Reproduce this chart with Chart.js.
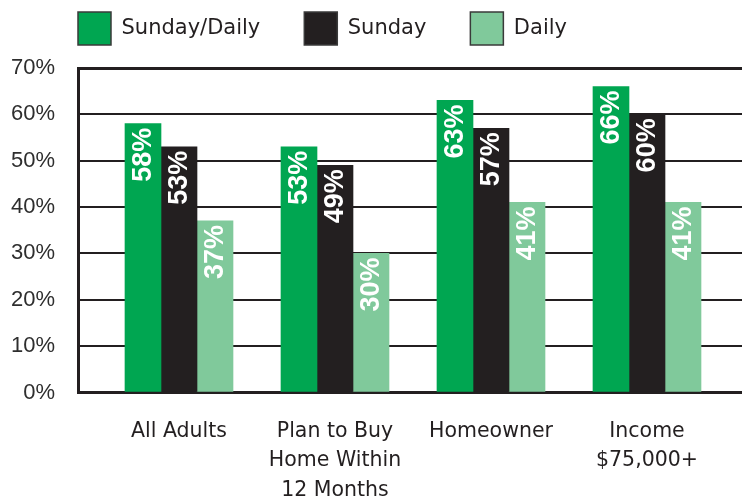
<!DOCTYPE html>
<html>
<head>
<meta charset="utf-8">
<script src="https://cdn.jsdelivr.net/npm/chart.js@4/dist/chart.umd.min.js"></script>
<style>
  html, body { margin: 0; padding: 0; background: #ffffff; }
  #wrap { width: 742px; height: 498px; }
</style>
</head>
<body>
<div id="wrap"><canvas id="c" width="742" height="498"></canvas></div>
<script>
// ---- data ----
const categories = [
  ['All Adults'],
  ['Plan to Buy', 'Home Within', '12 Months'],
  ['Homeowner'],
  ['Income', '$75,000+']
];
const seriesNames = ['Sunday/Daily', 'Sunday', 'Daily'];
const sundayDaily = [58, 53, 63, 66];
const sunday = [53, 49, 57, 60];
const daily = [37, 30, 41, 41];
const yTicks = [0, 10, 20, 30, 40, 50, 60, 70];

const INK = '#231f20';
const colors = ['#00a651', '#231f20', '#80c99b'];

const toPoints = arr => arr.map((v, i) => ({ x: i, y: v }));

const valueLabels = {
  id: 'valueLabels',
  afterDatasetsDraw(chart) {
    const ctx = chart.ctx;
    ctx.save();
    ctx.fillStyle = '#ffffff';
    ctx.font = 'bold 27px "Liberation Sans", Arial, sans-serif';
    ctx.textAlign = 'right';
    ctx.textBaseline = 'middle';
    chart.data.datasets.forEach((ds, di) => {
      const meta = chart.getDatasetMeta(di);
      meta.data.forEach((bar, i) => {
        ctx.save();
        ctx.translate(bar.x + 1, bar.y + 4);
        ctx.rotate(-Math.PI / 2);
        ctx.fillText(ds.data[i].y + '%', 0, 0);
        ctx.restore();
      });
    });
    ctx.restore();
  }
};

const legendPlace = {
  id: 'legendPlace',
  beforeLayout(chart) {
    const lg = chart.legend;
    if (lg && !lg.__gap) {
      const fit = lg.fit;
      lg.fit = function () { fit.apply(this, arguments); this.height += 13; };
      lg.__gap = true;
    }
  },
  afterLayout(chart) {
    const lg = chart.legend;
    if (lg) { lg.left += 34; lg.right += 34; }
  }
};

const ds = [sundayDaily, sunday, daily].map((arr, k) => ({
  label: seriesNames[k],
  data: toPoints(arr),
  backgroundColor: colors[k],
  borderWidth: 0,
  barThickness: 36
}));

new Chart(document.getElementById('c'), {
  type: 'bar',
  data: { datasets: ds },
  plugins: [valueLabels, legendPlace],
  options: {
    responsive: false,
    animation: false,
    layout: { padding: { top: -32, left: 0, right: 0, bottom: -31 } },
    plugins: {
      tooltip: { enabled: false },
      legend: {
        position: 'top',
        align: 'start',
        labels: {
          boxWidth: 33,
          boxHeight: 33,
          padding: 44,
          color: INK,
          font: { family: '"DejaVu Sans", sans-serif', size: 21 },
          generateLabels(chart) {
            const items = Chart.defaults.plugins.legend.labels.generateLabels(chart);
            items.forEach(it => { it.strokeStyle = '#3a3a3a'; it.lineWidth = 1.5; });
            return items;
          }
        }
      }
    },
    scales: {
      x: {
        type: 'linear',
        offset: false,
        min: -0.6474,
        max: 3.609,
        z: 1,
        grid: { display: false, drawTicks: false },
        border: { display: true, color: INK, width: 3 },
        afterBuildTicks(scale) {
          scale.ticks = categories.map((_, i) => ({ value: i }));
        },
        ticks: {
          autoSkip: false,
          maxRotation: 0,
          padding: 24,
          color: INK,
          font: { family: '"DejaVu Sans", sans-serif', size: 20.5, lineHeight: 1.44 },
          callback(value) { return categories[Math.round(value)]; }
        }
      },
      y: {
        min: 0,
        max: 70,
        afterFit(scale) { scale.width = 78; },
        afterBuildTicks(scale) {
          scale.ticks = yTicks.map(v => ({ value: v }));
        },
        grid: {
          color: INK,
          drawTicks: false,
          lineWidth: c => (c.tick && c.tick.value === 70 ? 3 : 2)
        },
        border: { display: true, color: INK, width: 3 },
        ticks: {
          padding: 23,
          color: '#2e2e2e',
          font: { family: '"Liberation Sans", Arial, sans-serif', size: 22 },
          callback(value) { return value + '%'; }
        }
      }
    }
  }
});
</script>
</body>
</html>
